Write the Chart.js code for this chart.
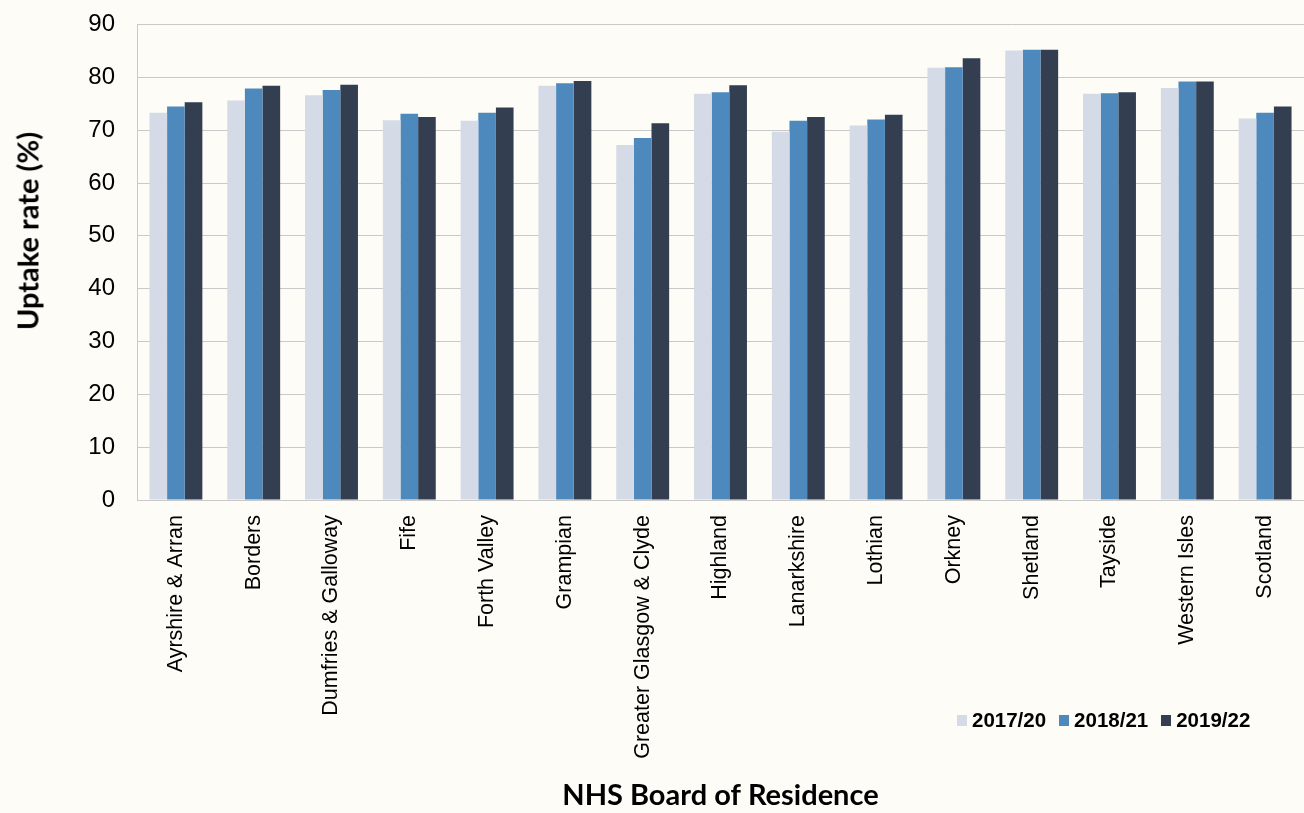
<!DOCTYPE html>
<html>
<head>
<meta charset="utf-8">
<title>Uptake rate by NHS Board</title>
<script src="https://cdn.jsdelivr.net/npm/chart.js@4/dist/chart.umd.min.js"></script>
<style>
  html, body { margin: 0; padding: 0; background: #fdfcf7; }
  #wrap { position: relative; width: 1304px; height: 813px; }
  #legend {
    position: absolute; left: 957px; top: 708px;
    display: flex; gap: 13px;
    font: bold 20.5px "Liberation Sans", Arial, sans-serif; color: #000;
  }
  #legend span.item { display: flex; align-items: center; }
  #legend i { display: inline-block; width: 10px; height: 11px; margin-right: 5px; }
  #yTitle {
    position: absolute; left: 27px; top: 231px;
    transform: translate(-50%, -50%) rotate(-90deg);
    white-space: nowrap;
    font: bold 29px Lato, "Open Sans", sans-serif; color: #000;
  }
</style>
</head>
<body>
<div id="wrap">
  <canvas id="uptakeChart" width="1304" height="813"></canvas>
  <div id="yTitle">Uptake rate (%)</div>
  <div id="legend"></div>
</div>
<script>
const boards = [
  "Ayrshire & Arran", "Borders", "Dumfries & Galloway", "Fife", "Forth Valley",
  "Grampian", "Greater Glasgow & Clyde", "Highland", "Lanarkshire", "Lothian",
  "Orkney", "Shetland", "Tayside", "Western Isles", "Scotland"
];
const periods = ["2017/20", "2018/21", "2019/22"];

const rate2017 = [73.3, 75.6, 76.6, 71.9, 71.8, 78.4, 67.2, 76.9, 69.7, 70.9, 81.8, 85.1, 76.9, 78.0, 72.2];
const rate2018 = [74.5, 77.9, 77.6, 73.1, 73.3, 78.9, 68.5, 77.2, 71.8, 72.0, 81.9, 85.2, 77.0, 79.2, 73.3];
const rate2019 = [75.3, 78.4, 78.6, 72.5, 74.3, 79.3, 71.3, 78.5, 72.5, 72.9, 83.6, 85.2, 77.2, 79.2, 74.5];

const colours = ["#d4dbe6", "#4e89be", "#333e50"];
const gridColour = "#c9c9c9";
const sans = '"Liberation Sans", Arial, sans-serif';

const ctx = document.getElementById("uptakeChart").getContext("2d");

const chart = new Chart(ctx, {
  type: "bar",
  data: {
    labels: boards,
    datasets: [rate2017, rate2018, rate2019].map((values, i) => ({
      label: periods[i],
      data: values,
      backgroundColor: colours[i],
      borderWidth: 0,
      barPercentage: 1,
      categoryPercentage: 0.68
    }))
  },
  options: {
    responsive: false,
    animation: false,
    layout: { padding: { top: 24.5, right: 0, bottom: 0, left: 0 } },
    plugins: {
      legend: { display: false },
      tooltip: { enabled: false }
    },
    scales: {
      x: {
        grid: { display: false },
        border: { display: true, color: gridColour, width: 1 },
        ticks: {
          color: "#000",
          font: { family: sans, size: 21.5 },
          minRotation: 90,
          maxRotation: 90,
          padding: 7,
          autoSkip: false
        },
        title: {
          display: true,
          text: "NHS Board of Residence",
          color: "#000",
          font: { family: "Lato, 'Open Sans', sans-serif", size: 29, weight: "bold" },
          padding: { top: 0, bottom: 0 }
        },
        afterFit: (scale) => { scale.height = 313; }
      },
      y: {
        min: 0,
        max: 90,
        // invisible tick marks keep the labels clear of the axis line
        grid: { color: gridColour, lineWidth: 1, drawTicks: true, tickLength: 22, tickColor: "rgba(0,0,0,0)" },
        border: { display: true, color: gridColour, width: 1 },
        ticks: {
          stepSize: 10,
          color: "#000",
          font: { family: sans, size: 24 },
          padding: 0
        },
        afterFit: (scale) => { scale.width = 137; }
      }
    }
  }
});

// --------- Legend ---------
const legend = document.getElementById("legend");
chart.data.datasets.forEach((ds) => {
  const item = document.createElement("span");
  item.className = "item";
  const swatch = document.createElement("i");
  swatch.style.background = ds.backgroundColor;
  item.appendChild(swatch);
  item.appendChild(document.createTextNode(ds.label));
  legend.appendChild(item);
});
</script>
</body>
</html>
